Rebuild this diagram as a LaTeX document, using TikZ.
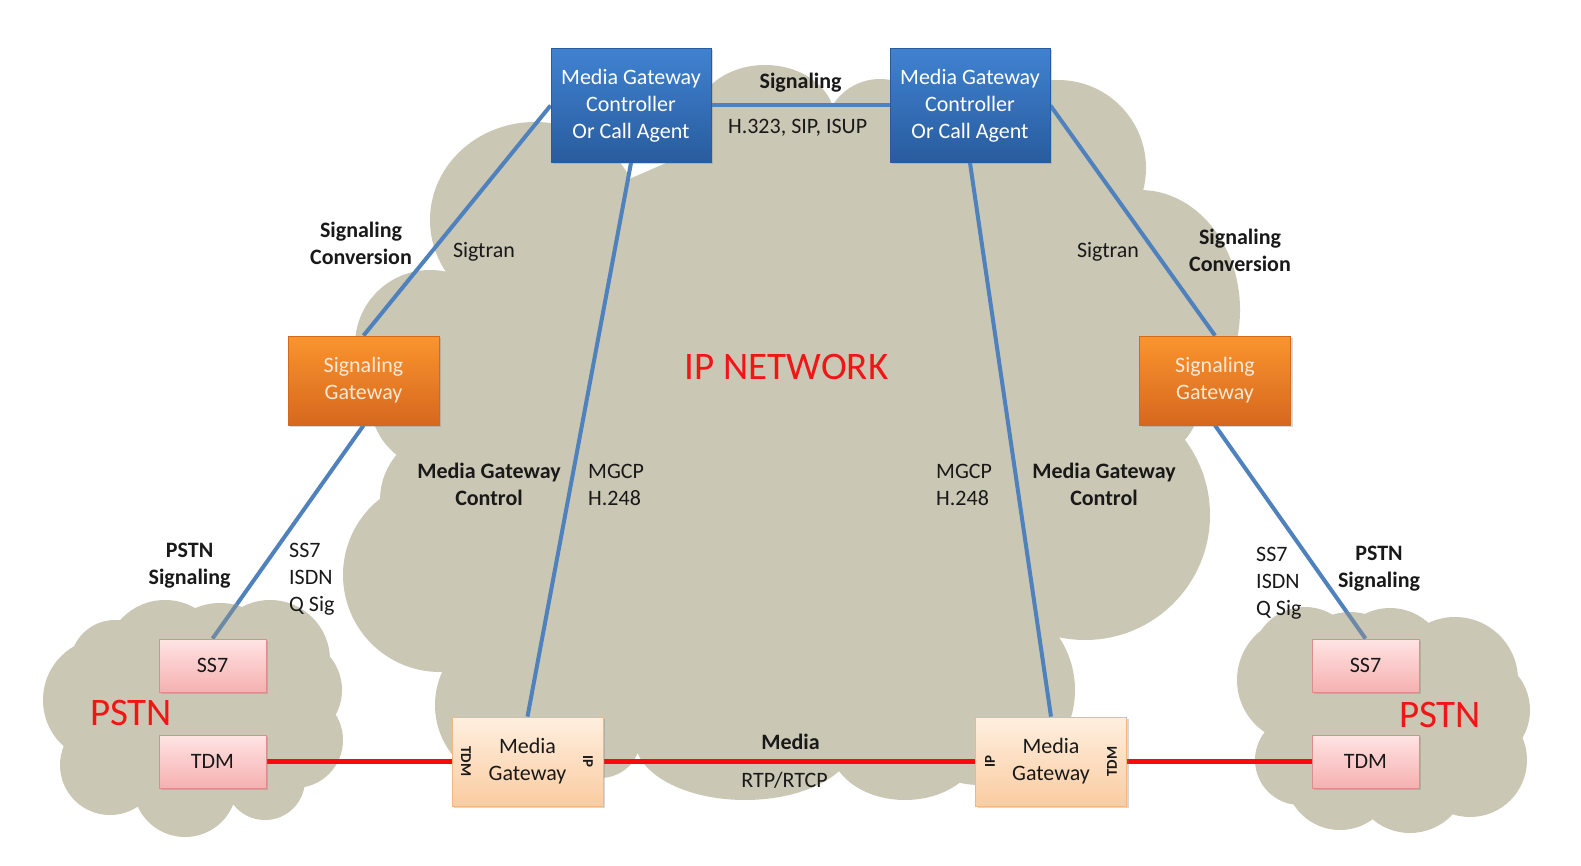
\documentclass[tikz,border=0pt]{standalone}
\usepackage{fontspec}
\setmainfont{Carlito}
\usetikzlibrary{shadows,calc}
\definecolor{cloudc}{RGB}{203,199,181}
\definecolor{lnblue}{RGB}{79,129,189}
\definecolor{lngray}{RGB}{108,138,165}
\definecolor{lnred}{RGB}{250,10,10}
\definecolor{mgctop}{RGB}{64,130,208}
\definecolor{mgcbot}{RGB}{40,92,158}
\definecolor{sgtop}{RGB}{250,148,46}
\definecolor{sgbot}{RGB}{214,104,30}
\definecolor{sgtxt}{RGB}{255,232,212}
\definecolor{pktop}{RGB}{255,228,228}
\definecolor{pkbot}{RGB}{246,176,176}
\definecolor{pkline}{RGB}{225,140,140}
\definecolor{mgtop}{RGB}{255,239,224}
\definecolor{mgbot}{RGB}{250,204,160}
\definecolor{mgline}{RGB}{242,182,130}
\definecolor{txt}{RGB}{25,25,25}
\definecolor{netred}{RGB}{240,22,22}
\pgfdeclarelayer{bg}
\pgfsetlayers{bg,main}
\begin{document}
\begin{tikzpicture}[x=1pt,y=-1pt,
  base/.style={font=\fontsize{22}{27}\selectfont, align=center, inner sep=0pt},
  lab/.style={base, text=txt},
  blab/.style={base, text=txt, font=\fontsize{22}{27}\selectfont\bfseries},
  biglab/.style={inner sep=0pt, text=netred, font=\fontsize{39}{44}\selectfont},
  rotlab/.style={inner sep=0pt, text=txt, font=\fontsize{15}{18}\selectfont\bfseries},
  shad/.style={drop shadow={shadow xshift=2pt, shadow yshift=-2pt, opacity=0.3}},
  mgcbox/.style={base, shad, draw=mgcbot, line width=0.8pt, top color=mgctop, bottom color=mgcbot, text=white, minimum width=160, minimum height=114},
  sgbox/.style={base, shad, draw=sgbot, line width=0.8pt, top color=sgtop, bottom color=sgbot, text=sgtxt, minimum width=151, minimum height=89},
  pkbox/.style={base, shad, draw=pkline, line width=0.8pt, top color=pktop, bottom color=pkbot, text=txt, minimum width=107, minimum height=53},
  mgbox/.style={base, shad, draw=mgline, line width=0.8pt, top color=mgtop, bottom color=mgbot, text=txt, minimum width=151, minimum height=89},
  bline/.style={draw=lnblue, line width=4pt},
  gline/.style={draw=lngray, line width=4pt},
  rline/.style={draw=lnred, line width=5pt},
  cloud/.style={fill=cloudc}
]
\useasboundingbox (0,0) rectangle (1581,866);
\begin{pgfonlayer}{bg}
\fill[white] (0,0) rectangle (1581,866);
% IP network cloud
\fill[cloud] (535,220) -- (765,120) -- (880,135) -- (1058,168) -- (1140,310) -- (1140,400) -- (1085,515) -- (980,690) -- (905,745) -- (745,740) -- (600,740) -- (515,705) -- (440,575) -- (450,500) -- (440,400) -- (430,345) -- cycle;
\fill[cloud] (535,220) ellipse[x radius=105, y radius=98]
  (765,120) ellipse[x radius=70, y radius=55]
  (880,135) circle[radius=56]
  (1058,168) circle[radius=88]
  (1140,310) ellipse[x radius=100, y radius=120]
  (1140,400) circle[radius=60]
  (1085,515) circle[radius=125]
  (980,690) circle[radius=95]
  (905,745) ellipse[x radius=75, y radius=55]
  (745,740) ellipse[x radius=110, y radius=60]
  (600,740) ellipse[x radius=40, y radius=38]
  (515,705) circle[radius=80]
  (440,575) circle[radius=97]
  (450,500) circle[radius=70]
  (440,400) circle[radius=70]
  (430,345) circle[radius=75];
% left PSTN cloud
\fill[cloud] (105,700) circle[radius=62] (115,665) circle[radius=45]
  (165,660) circle[radius=60] (220,665) circle[radius=62]
  (270,660) circle[radius=60] (290,690) circle[radius=52]
  (295,740) circle[radius=48] (265,780) circle[radius=40]
  (185,785) circle[radius=52] (110,765) circle[radius=50]
  (200,720) circle[radius=85];
% right PSTN cloud
\fill[cloud] (1300,680) circle[radius=63] (1305,660) circle[radius=53]
  (1350,670) circle[radius=58] (1390,665) circle[radius=57]
  (1455,680) circle[radius=63] (1475,710) circle[radius=55]
  (1470,760) circle[radius=57] (1410,775) circle[radius=58]
  (1340,775) circle[radius=55] (1300,760) circle[radius=45]
  (1400,720) circle[radius=80];
\end{pgfonlayer}

% nodes
\node[mgcbox] (mgcL) at (631,105.5) {Media Gateway\\Controller\\Or Call Agent};
\node[mgcbox] (mgcR) at (970,105.5) {Media Gateway\\Controller\\Or Call Agent};
\node[sgbox] (sgL) at (363.5,380.5) {Signaling\\Gateway};
\node[sgbox] (sgR) at (1215,380.5) {Signaling\\Gateway};
\node[pkbox] (ss7L) at (212.5,665.5) {SS7};
\node[pkbox] (tdmL) at (212.5,761.5) {TDM};
\node[pkbox] (ss7R) at (1365.5,665.5) {SS7};
\node[pkbox] (tdmR) at (1365.5,761.5) {TDM};
\node[mgbox] (mgL) at (527.5,761.5) {Media\\Gateway};
\node[mgbox] (mgR) at (1051,761.5) {Media\\Gateway};

% connectors
\coordinate (splitL) at ($(sgL.south)!0.84!(ss7L.north)$);
\coordinate (splitR) at ($(sgR.south)!0.875!(ss7R.north)$);
\begin{pgfonlayer}{bg}
\path[bline] (mgcL.east) -- (mgcR.west);
\path[bline] (mgcL.west) -- (sgL.north);
\path[bline] (mgcR.east) -- (sgR.north);
\path[bline] (mgcL.south) -- (mgL.north);
\path[bline] (mgcR.south) -- (mgR.north);
\path[bline] (sgL.south) -- (splitL);
\path[gline] (splitL) -- (ss7L.north);
\path[bline] (sgR.south) -- (splitR);
\path[gline] (splitR) -- (ss7R.north);
\path[rline] (tdmL.east) -- (mgL.west);
\path[rline] (mgL.east) -- (mgR.west);
\path[rline] (mgR.east) -- (tdmR.west);
\end{pgfonlayer}

% port labels in media gateways
\node[rotlab, rotate=-90] (mgLtdm) at (466,761.5) {TDM};
\node[rotlab, rotate=-90] (mgLip) at (588,761.5) {IP};
\node[rotlab, rotate=90] (mgRip) at (990,761.5) {IP};
\node[rotlab, rotate=90] (mgRtdm) at (1112,761.5) {TDM};

% labels
\node[blab] (t1) at (800.6,83) {Signaling};
\node[lab] (t2) at (797.6,128) {H.323, SIP, ISUP};
\node[blab] (t3) at (361,243) {Signaling\\Conversion};
\node[lab] (t4) at (484,252) {Sigtran};
\node[lab] (t5) at (1108,252) {Sigtran};
\node[blab] (t6) at (1240,250) {Signaling\\Conversion};
\node[biglab] (t7) at (786.5,367) {IP NETWORK};
\node[blab] (t8) at (489,484.5) {Media Gateway\\Control};
\node[lab, anchor=west, align=left] (t9) at (588,484.5) {MGCP\\H.248};
\node[lab, anchor=west, align=left] (t10) at (936,484.5) {MGCP\\H.248};
\node[blab] (t11) at (1104,484.5) {Media Gateway\\Control};
\node[blab] (t12) at (189.6,566) {PSTN\\Signaling};
\node[lab, anchor=west, align=left] (t13) at (289,579) {SS7\\ISDN\\Q Sig};
\node[lab, anchor=west, align=left] (t14) at (1256,583) {SS7\\ISDN\\Q Sig};
\node[blab] (t15) at (1379,569) {PSTN\\Signaling};
\node[biglab] (t16) at (131,713) {PSTN};
\node[biglab] (t17) at (1440,715) {PSTN};
\node[blab] (t18) at (790.5,742) {Media};
\node[lab] (t19) at (784.5,780) {RTP/RTCP};
\end{tikzpicture}
\end{document}
